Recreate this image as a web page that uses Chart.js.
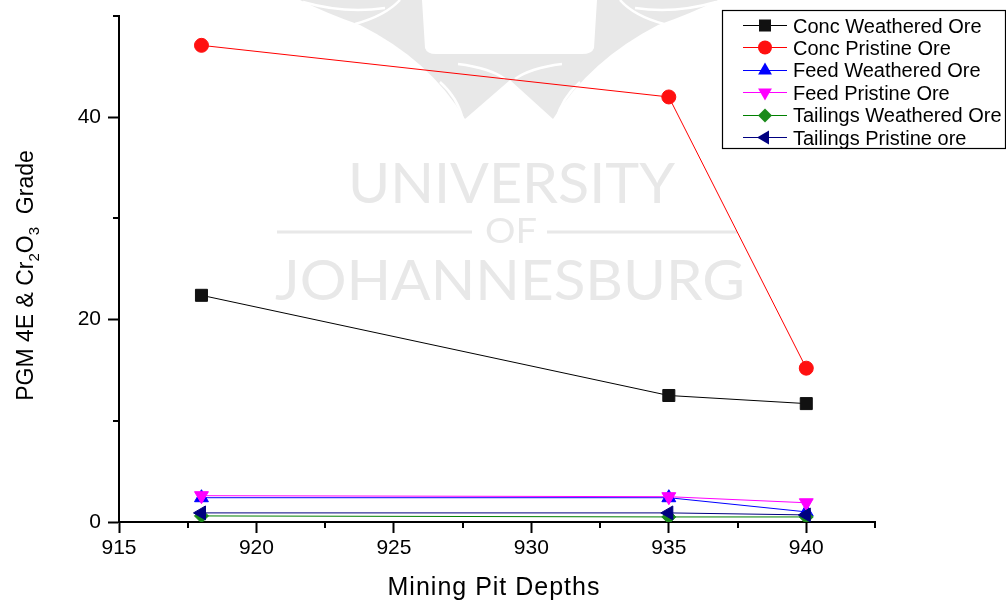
<!DOCTYPE html>
<html>
<head>
<meta charset="utf-8">
<script src="https://cdn.jsdelivr.net/npm/chart.js@4.4.1/dist/chart.umd.min.js"></script>
<style>
  html, body { margin: 0; padding: 0; background: #ffffff; }
  #wrap { width: 1006px; height: 601px; }
</style>
</head>
<body>
<div id="wrap"><canvas id="c" width="1006" height="601"></canvas></div>
<script>
// Mining pit depths (m) and grades per stream
const depths = [918, 935, 940];
const seriesNames = [
  'Conc Weathered Ore', 'Conc Pristine Ore', 'Feed Weathered Ore',
  'Feed Pristine Ore', 'Tailings Weathered Ore', 'Tailings Pristine ore'
];
const concWeathered = [22.4, 12.5, 11.7];
const concPristine  = [47.1, 42.0, 15.2];
const feedWeathered = [2.4, 2.4, 1.0];
const feedPristine  = [2.6, 2.5, 1.9];
const tailWeathered = [0.6, 0.5, 0.5];
const tailPristine  = [0.9, 0.9, 0.7];

const xMajorTicks = [915, 920, 925, 930, 935, 940];
const xMinorTicks = [917.5, 922.5, 927.5, 932.5, 937.5, 942.5];
const yMajorTicks = [0, 20, 40];
const yMinorTicks = [10, 30, 50];

const FONT = '"Liberation Sans", Arial, Helvetica, sans-serif';

// marker styles per series
const styles = [
  { color: '#000000', fill: '#111111', shape: 'rect',     radius: 8.5, rot: 0 },
  { color: '#ff0000', fill: '#ff1010', shape: 'circle',   radius: 7,   rot: 0 },
  { color: '#0000ff', fill: '#0000ff', shape: 'triangle', radius: 8,   rot: 0 },
  { color: '#ff00ff', fill: '#ff00ff', shape: 'triangle', radius: 8,   rot: 180 },
  { color: '#008000', fill: '#1a8a1a', shape: 'rectRot',  radius: 7,   rot: 0 },
  { color: '#000080', fill: '#000080', shape: 'triangle', radius: 8,   rot: 270 }
];
const values = [concWeathered, concPristine, feedWeathered, feedPristine, tailWeathered, tailPristine];

const datasets = values.map((v, i) => ({
  label: seriesNames[i],
  data: depths.map((d, k) => ({ x: d, y: v[k] })),
  borderColor: styles[i].color,
  backgroundColor: styles[i].fill,
  borderWidth: 1,
  pointStyle: styles[i].shape,
  pointRadius: styles[i].radius,
  pointRotation: styles[i].rot,
  pointBorderColor: styles[i].fill,
  pointBackgroundColor: styles[i].fill,
  pointBorderWidth: 1,
  tension: 0,
  order: values.length - 1 - i
}));

// simple marker drawing used by the legend
function drawMarker(ctx, st, x, y) {
  ctx.save();
  ctx.translate(x, y);
  ctx.rotate(st.rot * Math.PI / 180);
  ctx.fillStyle = st.fill;
  ctx.beginPath();
  const r = st.radius;
  if (st.shape === 'circle') {
    ctx.arc(0, 0, r, 0, Math.PI * 2);
  } else if (st.shape === 'rect') {
    const s = Math.SQRT1_2 * r;
    ctx.rect(-s, -s, 2 * s, 2 * s);
  } else if (st.shape === 'rectRot') {
    ctx.moveTo(0, -r); ctx.lineTo(r, 0); ctx.lineTo(0, r); ctx.lineTo(-r, 0);
    ctx.closePath();
  } else {
    const w = r * Math.sqrt(3) / 2;
    ctx.moveTo(0, -r);
    ctx.lineTo(w, r / 2);
    ctx.lineTo(-w, r / 2);
    ctx.closePath();
  }
  ctx.fill();
  ctx.restore();
}

// text squeezed or stretched to a given span
function drawFitted(ctx, text, x1, x2, baseline, font) {
  ctx.save();
  ctx.font = font;
  const w = ctx.measureText(text).width;
  ctx.translate(x1, baseline);
  ctx.scale((x2 - x1) / w, 1);
  ctx.textAlign = 'left';
  ctx.textBaseline = 'alphabetic';
  ctx.fillText(text, 0, 0);
  ctx.restore();
}

const backdrop = {
  id: 'backdrop',
  beforeDraw(chart) {
    const ctx = chart.ctx;
    ctx.save();
    ctx.fillStyle = '#ffffff';
    ctx.fillRect(0, 0, chart.width, chart.height);

    const grey = '#e8e8e8';
    // crest emblem
    ctx.fillStyle = grey;
    ctx.beginPath();
    ctx.moveTo(300, 0);
    ctx.lineTo(422, 0);
    ctx.lineTo(425, 48);
    ctx.quadraticCurveTo(427, 54, 436, 54);
    ctx.lineTo(582, 54);
    ctx.quadraticCurveTo(592, 54, 594, 48);
    ctx.lineTo(597, 0);
    ctx.lineTo(718, 0);
    ctx.quadraticCurveTo(690, 14, 658, 25);
    ctx.quadraticCurveTo(590, 60, 553, 119);
    ctx.lineTo(510, 80);
    ctx.lineTo(465, 119);
    ctx.quadraticCurveTo(430, 60, 360, 25);
    ctx.quadraticCurveTo(328, 14, 300, 0);
    ctx.closePath();
    ctx.fill();

    // white slivers in the emblem
    ctx.strokeStyle = '#ffffff';
    ctx.lineWidth = 2.5;
    ctx.beginPath();
    ctx.moveTo(440, 82); ctx.quadraticCurveTo(458, 98, 463, 120);
    ctx.moveTo(580, 82); ctx.quadraticCurveTo(562, 98, 556, 120);
    ctx.moveTo(458, 64); ctx.quadraticCurveTo(490, 68, 505, 79);
    ctx.moveTo(562, 64); ctx.quadraticCurveTo(530, 68, 515, 79);
    ctx.moveTo(303, 2); ctx.quadraticCurveTo(345, 14, 385, 8);
    ctx.moveTo(716, 2); ctx.quadraticCurveTo(675, 14, 635, 8);
    ctx.moveTo(355, 24); ctx.quadraticCurveTo(385, 16, 400, 0);
    ctx.moveTo(664, 24); ctx.quadraticCurveTo(634, 16, 620, 0);
    ctx.stroke();

    // institution name
    ctx.fillStyle = grey;
    drawFitted(ctx, 'UNIVERSITY', 348, 675, 203, '400 57px Lato, "Open Sans", sans-serif');
    drawFitted(ctx, 'OF', 485, 537, 243, '400 35px Lato, "Open Sans", sans-serif');
    drawFitted(ctx, 'JOHANNESBURG', 275, 745, 300, '400 56px Lato, "Open Sans", sans-serif');
    ctx.fillRect(277, 230.5, 195, 3);
    ctx.fillRect(547, 230.5, 190, 3);
    ctx.restore();
  }
};

const decorations = {
  id: 'decorations',
  afterDraw(chart) {
    const ctx = chart.ctx;
    const xs = chart.scales.x, ys = chart.scales.y;
    const area = chart.chartArea;
    ctx.save();

    // minor ticks
    ctx.strokeStyle = '#000000';
    ctx.lineWidth = 2;
    ctx.beginPath();
    xMinorTicks.forEach(v => {
      const px = Math.round(xs.getPixelForValue(v));
      ctx.moveTo(px, area.bottom);
      ctx.lineTo(px, area.bottom + 6);
    });
    yMinorTicks.forEach(v => {
      const py = Math.round(ys.getPixelForValue(v));
      ctx.moveTo(area.left, py);
      ctx.lineTo(area.left - 6, py);
    });
    ctx.stroke();

    // x axis title
    ctx.fillStyle = '#000000';
    ctx.font = '25px ' + FONT;
    ctx.textAlign = 'center';
    ctx.textBaseline = 'alphabetic';
    try { ctx.letterSpacing = '1px'; } catch (e) {}
    ctx.fillText('Mining Pit Depths', 494, 595);
    try { ctx.letterSpacing = '0px'; } catch (e) {}

    // y axis title with subscripts
    const parts = [
      { t: 'PGM 4E & Cr', sub: false },
      { t: '2', sub: true },
      { t: 'O', sub: false },
      { t: '3', sub: true },
      { t: '  Grade', sub: false }
    ];
    const mainFont = '23px ' + FONT, subFont = '15px ' + FONT;
    let total = 0;
    parts.forEach(p => {
      ctx.font = p.sub ? subFont : mainFont;
      p.w = ctx.measureText(p.t).width;
      total += p.w;
    });
    ctx.save();
    ctx.translate(33, 275.5);
    ctx.rotate(-Math.PI / 2);
    ctx.textAlign = 'left';
    let cx = -total / 2;
    parts.forEach(p => {
      ctx.font = p.sub ? subFont : mainFont;
      ctx.fillText(p.t, cx, p.sub ? 6 : 0);
      cx += p.w;
    });
    ctx.restore();

    // legend
    const lx = 722.5, ly = 10.5, lw = 283, lh = 138;
    ctx.fillStyle = '#ffffff';
    ctx.fillRect(lx, ly, lw, lh);
    ctx.strokeStyle = '#000000';
    ctx.lineWidth = 1.2;
    ctx.strokeRect(lx, ly, lw, lh);
    ctx.font = '20px ' + FONT;
    ctx.textAlign = 'left';
    ctx.textBaseline = 'middle';
    chart.data.datasets.forEach((ds, i) => {
      const y = 25 + i * 22.4;
      ctx.strokeStyle = styles[i].color;
      ctx.lineWidth = 1;
      ctx.beginPath();
      ctx.moveTo(743, Math.round(y) + 0.5);
      ctx.lineTo(787, Math.round(y) + 0.5);
      ctx.stroke();
      drawMarker(ctx, styles[i], 765, Math.round(y) + 0.5);
      ctx.fillStyle = '#000000';
      ctx.fillText(ds.label, 793, y + 2);
    });
    ctx.restore();
  }
};

new Chart(document.getElementById('c'), {
  type: 'line',
  data: { datasets },
  options: {
    responsive: false,
    animation: false,
    events: [],
    layout: { padding: { left: 0, right: 131, top: 16, bottom: 0 } },
    plugins: { legend: { display: false }, tooltip: { enabled: false } },
    scales: {
      x: {
        type: 'linear',
        min: 915,
        max: 942.5,
        afterBuildTicks: s => { s.ticks = xMajorTicks.map(v => ({ value: v })); },
        afterFit: s => { s.height = 79; s.paddingLeft = 0; s.paddingRight = 0; },
        border: { display: true, color: '#000000', width: 2 },
        grid: { drawOnChartArea: false, drawTicks: true, tickLength: 11, tickColor: '#000000', tickWidth: 2 },
        ticks: { color: '#000000', font: { family: FONT, size: 21 }, padding: 3, maxRotation: 0 }
      },
      y: {
        type: 'linear',
        min: 0,
        max: 50,
        afterBuildTicks: s => { s.ticks = yMajorTicks.map(v => ({ value: v })); },
        afterFit: s => { s.width = 119; s.paddingTop = 0; s.paddingBottom = 0; },
        border: { display: true, color: '#000000', width: 2 },
        grid: { drawOnChartArea: false, drawTicks: true, tickLength: 11, tickColor: '#000000', tickWidth: 2 },
        ticks: { color: '#000000', font: { family: FONT, size: 21 }, padding: 7 }
      }
    }
  },
  plugins: [backdrop, decorations]
});
</script>
</body>
</html>
